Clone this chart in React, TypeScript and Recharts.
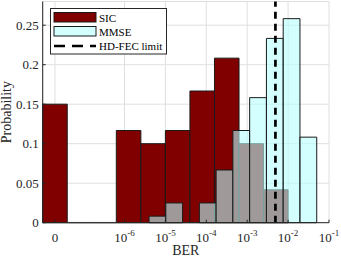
import React from 'react';
import {
  ComposedChart,
  XAxis,
  YAxis,
  CartesianGrid,
  ReferenceArea,
  ReferenceLine,
  Legend,
} from 'recharts';

// ---- data (x in log10(BER); the "0" BER bin is placed at the left end) ----
const xTickValues = [-7.7, -6, -5, -4, -3, -2, -1];
const xTickLabels = ['0', '-6', '-5', '-4', '-3', '-2', '-1'];
const yTickValues = [0, 0.05, 0.1, 0.15, 0.2, 0.25];
const yTickLabels = ['0', '0.05', '0.1', '0.15', '0.2', '0.25'];

const sicEdges = [-8, -7.4, -6.8, -6.2, -5.6, -5.0, -4.4, -3.8, -3.2, -2.6, -2.0];
const sicProb = [0.15, 0, 0, 0.1167, 0.1, 0.1167, 0.1667, 0.2083, 0.1, 0.0417];

const mmseEdges = [-5.4, -4.99, -4.58, -4.17, -3.76, -3.35, -2.94, -2.53, -2.12, -1.71, -1.3];
const mmseProb = [0.0083, 0.025, 0, 0.025, 0.0667, 0.1167, 0.1583, 0.2333, 0.2583, 0.1083];

const hdFecLimit = -2.31;
const seriesNames = ['SIC', 'MMSE', 'HD-FEC limit'];

const xDomain = [-8, -1];
const yDomain = [0, 0.28];

// ---- styles ----
const FONT = '"Liberation Serif", "Times New Roman", serif';
const TEXT = '#262626';
const EDGE = '#1a1a1a';
const SIC_FILL = '#800000';
const MMSE_FILL = '#b5ffff';
const MMSE_ALPHA = 0.6;
const GRID = '#dfdfdf';

const XTick = (props: any) => {
  const { x, y, payload } = props;
  const i = xTickValues.indexOf(payload.value);
  const lab = xTickLabels[i];
  if (lab === '0') {
    return (
      <text x={x} y={y + 22.5} textAnchor="middle" fontFamily={FONT} fontSize={13} fill={TEXT}>
        0
      </text>
    );
  }
  return (
    <text x={x} y={y + 22.3} textAnchor="middle" fontFamily={FONT} fontSize={13} fill={TEXT}>
      <tspan>10</tspan>
      <tspan dy={-6.5} fontSize={9}>
        {lab}
      </tspan>
    </text>
  );
};

const YTick = (props: any) => {
  const { x, y, payload } = props;
  const i = yTickValues.indexOf(payload.value);
  return (
    <text x={x} y={y + 4.5} textAnchor="end" fontFamily={FONT} fontSize={13} fill={TEXT}>
      {yTickLabels[i]}
    </text>
  );
};

const EmptyTick = () => <g />;

const LegendBox = () => (
  <svg width={118} height={47} style={{ display: 'block' }}>
    <rect x={0.5} y={0.5} width={116} height={45.5} fill="#ffffff" stroke={TEXT} strokeWidth={1} />
    <rect x={4} y={4.5} width={42} height={9.5} fill={SIC_FILL} stroke={EDGE} strokeWidth={1} />
    <text x={49} y={13.5} fontFamily={FONT} fontSize={11} fill="#000">
      {seriesNames[0]}
    </text>
    <rect
      x={4}
      y={18.5}
      width={42}
      height={9.5}
      fill={MMSE_FILL}
      fillOpacity={MMSE_ALPHA}
      stroke={EDGE}
      strokeWidth={1}
    />
    <text x={49} y={27.5} fontFamily={FONT} fontSize={11} fill="#000">
      {seriesNames[1]}
    </text>
    <line x1={4} x2={46} y1={38} y2={38} stroke="#000" strokeWidth={2.7} strokeDasharray="11 7" />
    <text x={49} y={42} fontFamily={FONT} fontSize={11} fill="#000">
      {seriesNames[2]}
    </text>
  </svg>
);

const bins = (edges: number[], probs: number[]) =>
  probs.map((p, i) => ({ x1: edges[i], x2: edges[i + 1], p }));

const sicBins = bins(sicEdges, sicProb);
const mmseBins = bins(mmseEdges, mmseProb);

export default function App() {
  return (
    <div style={{ position: 'absolute', left: 0, top: 0, width: 341, height: 261, background: '#fff' }}>
      <ComposedChart
        width={341}
        height={261}
        data={sicBins}
        margin={{ top: 1.5, right: 12, bottom: 0, left: 0 }}
      >
        <CartesianGrid stroke={GRID} strokeWidth={1} />
        <XAxis
          dataKey="x1"
          type="number"
          domain={xDomain}
          ticks={xTickValues}
          allowDataOverflow
          height={38.3}
          tickSize={-3}
          tickMargin={0}
          tick={XTick}
          axisLine={{ stroke: TEXT, strokeWidth: 1 }}
          tickLine={{ stroke: TEXT, strokeWidth: 1 }}
          label={(p: any) => {
            const vb = p.viewBox;
            return (
              <text
                x={vb.x + vb.width / 2}
                y={255}
                textAnchor="middle"
                fontFamily={FONT}
                fontSize={14}
                fill={TEXT}
              >
                BER
              </text>
            );
          }}
        />
        <XAxis
          xAxisId="top"
          orientation="top"
          type="number"
          domain={xDomain}
          ticks={xTickValues}
          allowDataOverflow
          height={0}
          tickSize={-3}
          tick={EmptyTick}
          axisLine={{ stroke: TEXT, strokeWidth: 1 }}
          tickLine={{ stroke: TEXT, strokeWidth: 1 }}
        />
        <YAxis
          type="number"
          domain={yDomain}
          ticks={yTickValues}
          allowDataOverflow
          width={42.7}
          tickSize={-3}
          tickMargin={7}
          tick={YTick}
          axisLine={{ stroke: TEXT, strokeWidth: 1 }}
          tickLine={{ stroke: TEXT, strokeWidth: 1 }}
          label={(p: any) => {
            const vb = p.viewBox;
            const cx = 11;
            const cy = vb.y + vb.height / 2;
            return (
              <text
                x={cx}
                y={cy}
                transform={`rotate(-90, ${cx}, ${cy})`}
                textAnchor="middle"
                fontFamily={FONT}
                fontSize={14}
                fill={TEXT}
              >
                Probability
              </text>
            );
          }}
        />
        <YAxis
          yAxisId="right"
          orientation="right"
          type="number"
          domain={yDomain}
          ticks={yTickValues}
          allowDataOverflow
          width={0}
          tickSize={-3}
          tick={EmptyTick}
          axisLine={{ stroke: TEXT, strokeWidth: 1 }}
          tickLine={{ stroke: TEXT, strokeWidth: 1 }}
        />

        {sicBins.map((b, i) =>
          b.p > 0 ? (
            <ReferenceArea
              key={`sic-${i}`}
              x1={b.x1}
              x2={b.x2}
              y1={0}
              y2={b.p}
              fill={SIC_FILL}
              fillOpacity={1}
              stroke={EDGE}
              strokeWidth={1}
              ifOverflow="visible"
            />
          ) : (
            <ReferenceLine
              key={`sic-${i}`}
              segment={[
                { x: b.x1, y: 0 },
                { x: b.x2, y: 0 },
              ]}
              stroke="#8c8c8c"
              strokeWidth={1.6}
              ifOverflow="visible"
            />
          )
        )}
        {mmseBins.map((b, i) =>
          b.p > 0 ? (
            <ReferenceArea
              key={`mmse-${i}`}
              x1={b.x1}
              x2={b.x2}
              y1={0}
              y2={b.p}
              fill={MMSE_FILL}
              fillOpacity={MMSE_ALPHA}
              stroke={EDGE}
              strokeWidth={1}
              ifOverflow="visible"
            />
          ) : null
        )}
        <ReferenceLine
          x={hdFecLimit}
          stroke="#000"
          strokeWidth={2.7}
          strokeDasharray="7 5"
          ifOverflow="visible"
        />
        <Legend
          verticalAlign="middle"
          align="center"
          layout="horizontal"
          content={LegendBox}
          wrapperStyle={{ position: 'absolute', left: 50, top: 8, width: 118, height: 47 }}
        />
      </ComposedChart>
    </div>
  );
}
